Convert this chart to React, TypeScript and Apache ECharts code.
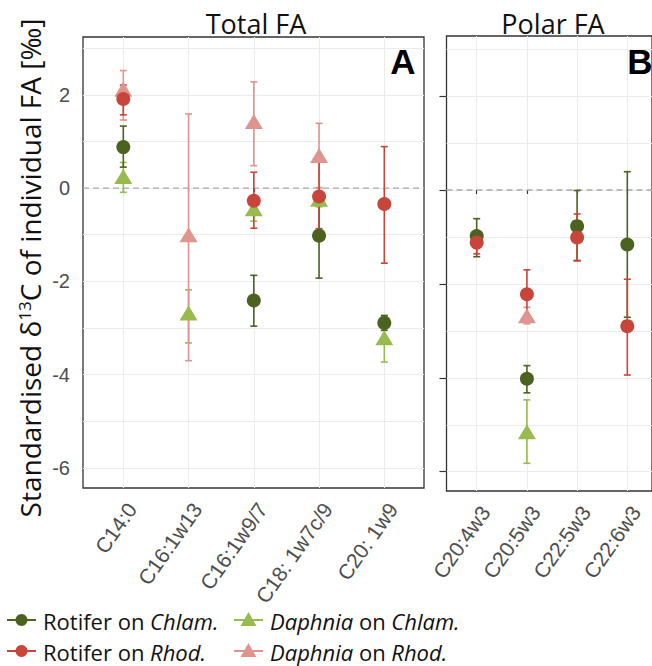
import React, { useEffect, useRef } from 'react';
import * as echarts from 'echarts';

// ---------- DATA ----------
const totalCats = ['C14:0', 'C16:1w13', 'C16:1w9/7', 'C18: 1w7c/9', 'C20: 1w9'];
const polarCats = ['C20:4w3', 'C20:5w3', 'C22:5w3', 'C22:6w3'];

const yLabelTicks = [-6, -4, -2, 0, 2];
const yGridTicks = [-6, -5, -4, -3, -2, -1, 0, 1, 2, 3];

// Total FA (mean, lower, upper)
const rotChlamTotal = [0.88, null, -2.41, -1.02, -2.89];
const rotChlamTotalLo = [0.45, null, -2.96, -1.93, -3.05];
const rotChlamTotalHi = [1.33, null, -1.87, -0.11, -2.73];

const rotRhodTotal = [1.91, null, -0.27, -0.18, -0.34];
const rotRhodTotalLo = [1.57, null, -0.86, -0.87, -1.61];
const rotRhodTotalHi = [2.21, null, 0.34, 0.57, 0.89];

const dapChlamTotal = [0.25, -2.68, -0.44, -0.24, -3.21];
const dapChlamTotalLo = [-0.09, -3.32, -0.71, -0.4, -3.73];
const dapChlamTotalHi = [0.55, -2.18, -0.2, -0.1, -2.75];

const dapRhodTotal = [2.12, -1.0, 1.43, 0.7, null];
const dapRhodTotalLo = [1.46, -3.7, 0.48, 0.01, null];
const dapRhodTotalHi = [2.52, 1.59, 2.28, 1.39, null];

// Polar FA
const rotChlamPolar = [-0.98, -4.02, -0.77, -1.16];
const rotChlamPolarLo = [-1.42, -4.32, -1.5, -2.71];
const rotChlamPolarHi = [-0.61, -3.74, -0.01, 0.39];

const rotRhodPolar = [-1.12, -2.22, -1.01, -2.9];
const rotRhodPolarLo = [-1.36, -2.7, -1.51, -3.94];
const rotRhodPolarHi = [-0.9, -1.7, -0.51, -1.9];

const dapChlamPolar = [null, -5.15, null, null];
const dapChlamPolarLo = [null, -5.82, null, null];
const dapChlamPolarHi = [null, -4.47, null, null];

const dapRhodPolar = [null, -2.68, null, null];
const dapRhodPolarLo = [null, -2.85, null, null];
const dapRhodPolarHi = [null, -2.5, null, null];

// ---------- STYLE ----------
const C_ROT_CHLAM = '#4b6220';
const C_ROT_RHOD = '#c8453c';
const C_DAP_CHLAM = '#97bb4f';
const C_DAP_RHOD = '#e0948e';
const GRID_COLOR = '#ebebeb';
const BORDER = '#333333';
const TICK_TEXT = '#4d4d4d';
const TICK_FONT = 'Liberation Sans, Arial, sans-serif';
const TEXT_FONT = 'Open Sans, sans-serif';

type Group = {
  name: string;
  color: string;
  symbol: string;
  size: number | number[];
  total: (number | null)[];
  totalLo: (number | null)[];
  totalHi: (number | null)[];
  polar: (number | null)[];
  polarLo: (number | null)[];
  polarHi: (number | null)[];
};

// draw order: triangles first, circles on top
const groups: Group[] = [
  { name: 'Daphnia on Chlam.', color: C_DAP_CHLAM, symbol: 'triangle', size: [18, 15],
    total: dapChlamTotal, totalLo: dapChlamTotalLo, totalHi: dapChlamTotalHi,
    polar: dapChlamPolar, polarLo: dapChlamPolarLo, polarHi: dapChlamPolarHi },
  { name: 'Daphnia on Rhod.', color: C_DAP_RHOD, symbol: 'triangle', size: [18, 15],
    total: dapRhodTotal, totalLo: dapRhodTotalLo, totalHi: dapRhodTotalHi,
    polar: dapRhodPolar, polarLo: dapRhodPolarLo, polarHi: dapRhodPolarHi },
  { name: 'Rotifer on Chlam.', color: C_ROT_CHLAM, symbol: 'circle', size: 14,
    total: rotChlamTotal, totalLo: rotChlamTotalLo, totalHi: rotChlamTotalHi,
    polar: rotChlamPolar, polarLo: rotChlamPolarLo, polarHi: rotChlamPolarHi },
  { name: 'Rotifer on Rhod.', color: C_ROT_RHOD, symbol: 'circle', size: 14,
    total: rotRhodTotal, totalLo: rotRhodTotalLo, totalHi: rotRhodTotalHi,
    polar: rotRhodPolar, polarLo: rotRhodPolarLo, polarHi: rotRhodPolarHi },
];

const Y_L = { min: -6.43, max: 3.24 };
const Y_R = { min: -6.41, max: 3.28 };

function points(vals: (number | null)[]) {
  const out: number[][] = [];
  vals.forEach((v, i) => { if (v != null) out.push([i, v]); });
  return out;
}
function bars(lo: (number | null)[], hi: (number | null)[]) {
  const out: number[][] = [];
  lo.forEach((l, i) => { const h = hi[i]; if (l != null && h != null) out.push([i, l, h]); });
  return out;
}

function errorSeries(xIdx: number, yIdx: number, data: number[][], color: string) {
  return {
    type: 'custom',
    xAxisIndex: xIdx,
    yAxisIndex: yIdx,
    z: 2,
    silent: true,
    clip: false,
    encode: { x: 0, y: [1, 2] },
    data,
    renderItem: (params: any, api: any) => {
      const x = api.value(0);
      const lo = api.value(1);
      const hi = api.value(2);
      const p1 = api.coord([x, hi]);
      const p2 = api.coord([x, lo]);
      const w = 3.5;
      const st = { stroke: color, lineWidth: 1.6 };
      return {
        type: 'group',
        children: [
          { type: 'line', shape: { x1: p1[0], y1: p1[1], x2: p2[0], y2: p2[1] }, style: st },
          { type: 'line', shape: { x1: p1[0] - w, y1: p1[1], x2: p1[0] + w, y2: p1[1] }, style: st },
          { type: 'line', shape: { x1: p2[0] - w, y1: p2[1], x2: p2[0] + w, y2: p2[1] }, style: st },
        ],
      };
    },
  };
}

function zeroLine(xIdx: number, yIdx: number) {
  return {
    type: 'custom',
    xAxisIndex: xIdx,
    yAxisIndex: yIdx,
    z: 1,
    silent: true,
    data: [[0, 0]],
    renderItem: (params: any, api: any) => {
      const a = api.coord([0, 0]);
      const b = api.coord([1, 0]);
      return {
        type: 'line',
        shape: { x1: a[0], y1: a[1], x2: b[0], y2: b[1] },
        style: { stroke: '#a9a9a9', lineWidth: 1.3, lineDash: [6, 4] },
      };
    },
  };
}

function catAxis(gridIndex: number, cats: string[]) {
  return {
    gridIndex,
    type: 'category',
    data: cats,
    boundaryGap: false,
    axisLine: { show: false },
    axisTick: { show: true, length: 4, interval: 0, lineStyle: { color: BORDER, width: 1.2 } },
    splitLine: { show: true, interval: 0, lineStyle: { color: GRID_COLOR, width: 1 } },
    axisLabel: {
      interval: 0, rotate: 55, fontSize: 21, color: TICK_TEXT, fontFamily: TICK_FONT,
      margin: 11, verticalAlign: 'top', align: 'right',
    },
  };
}

function hiddenValueX(gridIndex: number) {
  return { gridIndex, type: 'value', min: 0, max: 1, show: false };
}
function hiddenY(gridIndex: number, r: { min: number; max: number }) {
  return { gridIndex, type: 'value', min: r.min, max: r.max, show: false, splitLine: { show: false } };
}

function buildLegend() {
  const items = [
    { rich: '{n|Rotifer on }{i|Chlam.}', color: C_ROT_CHLAM, shape: 'circle', col: 0, row: 0 },
    { rich: '{n|Rotifer on }{i|Rhod.}', color: C_ROT_RHOD, shape: 'circle', col: 0, row: 1 },
    { rich: '{i|Daphnia}{n| on }{i|Chlam.}', color: C_DAP_CHLAM, shape: 'triangle', col: 1, row: 0 },
    { rich: '{i|Daphnia}{n| on }{i|Rhod.}', color: C_DAP_RHOD, shape: 'triangle', col: 1, row: 1 },
  ];
  const colX = [7, 234];
  const rowY = [620, 651];
  const els: any[] = [];
  items.forEach((it) => {
    const x0 = colX[it.col];
    const y = rowY[it.row];
    const cx = x0 + 14.5;
    els.push({ type: 'line', shape: { x1: x0, y1: y, x2: x0 + 29, y2: y }, style: { stroke: it.color, lineWidth: 2 }, silent: true });
    if (it.shape === 'circle') {
      els.push({ type: 'circle', shape: { cx, cy: y, r: 6 }, style: { fill: it.color }, silent: true });
    } else {
      els.push({ type: 'polygon', shape: { points: [[cx, y - 8], [cx + 8, y + 6], [cx - 8, y + 6]] }, style: { fill: it.color }, silent: true });
    }
    els.push({
      type: 'text', x: x0 + 36, y: y + 1, silent: true,
      style: {
        text: it.rich,
        rich: {
          n: { fontSize: 22, lineHeight: 20, fontFamily: TEXT_FONT, fill: '#111' },
          i: { fontSize: 22, lineHeight: 20, fontFamily: TEXT_FONT, fontStyle: 'italic', fill: '#111' },
        },
        align: 'left', verticalAlign: 'middle',
      },
    });
  });
  return els;
}

const series: any[] = [zeroLine(0, 0), zeroLine(2, 2)];
groups.forEach((g) => {
  series.push(errorSeries(1, 1, bars(g.totalLo, g.totalHi), g.color));
  series.push(errorSeries(3, 3, bars(g.polarLo, g.polarHi), g.color));
});
groups.forEach((g) => {
  series.push({
    type: 'scatter', name: g.name, xAxisIndex: 1, yAxisIndex: 1, z: 3, clip: false,
    symbol: g.symbol, symbolSize: g.size, itemStyle: { color: g.color, opacity: 1 },
    data: points(g.total),
  });
  series.push({
    type: 'scatter', name: g.name, xAxisIndex: 3, yAxisIndex: 3, z: 3, clip: false,
    symbol: g.symbol, symbolSize: g.size, itemStyle: { color: g.color, opacity: 1 },
    data: points(g.polar),
  });
});

const option: any = {
  animation: false,
  backgroundColor: '#ffffff',
  grid: [
    { left: 83, top: 37, width: 341, height: 451, show: true, borderColor: BORDER, borderWidth: 1.3, backgroundColor: 'transparent' },
    { left: 123.3, top: 37, width: 261, height: 451, show: false },
    { left: 446.5, top: 36, width: 215, height: 455, show: true, borderColor: BORDER, borderWidth: 1.3, backgroundColor: 'transparent' },
    { left: 476.7, top: 36, width: 150.6, height: 455, show: false },
  ],
  xAxis: [
    hiddenValueX(0),
    catAxis(1, totalCats),
    hiddenValueX(2),
    catAxis(3, polarCats),
  ],
  yAxis: [
    {
      gridIndex: 0, type: 'value', min: Y_L.min, max: Y_L.max, position: 'left',
      axisLine: { show: false },
      axisTick: { show: false, customValues: yGridTicks },
      splitLine: { show: true, lineStyle: { color: GRID_COLOR, width: 1 }, customValues: yGridTicks },
      axisLabel: { customValues: yLabelTicks, margin: 13, fontSize: 20, color: TICK_TEXT, fontFamily: TICK_FONT },
    },
    hiddenY(1, Y_L),
    {
      gridIndex: 2, type: 'value', min: Y_R.min, max: Y_R.max, position: 'left',
      axisLine: { show: false },
      axisTick: { show: false, customValues: yGridTicks },
      splitLine: { show: true, lineStyle: { color: GRID_COLOR, width: 1 }, customValues: yGridTicks },
      axisLabel: { show: false },
    },
    hiddenY(3, Y_R),
    {
      gridIndex: 2, type: 'value', min: Y_R.min, max: Y_R.max, position: 'left',
      axisLine: { show: false },
      axisTick: { show: true, length: 7, customValues: yLabelTicks, lineStyle: { color: BORDER, width: 1.2 } },
      splitLine: { show: false },
      axisLabel: { show: false },
    },
  ],
  graphic: [
    { type: 'text', x: 256, y: 23, silent: true, style: { text: 'Total FA', fontSize: 27, fontFamily: TEXT_FONT, fill: '#111', align: 'center', verticalAlign: 'middle' } },
    { type: 'text', x: 553, y: 23, silent: true, style: { text: 'Polar FA', fontSize: 27, fontFamily: TEXT_FONT, fill: '#111', align: 'center', verticalAlign: 'middle' } },
    { type: 'text', x: 403, y: 61, z: 10, silent: true, style: { text: 'A', fontSize: 35, fontWeight: 'bold', fontFamily: TICK_FONT, fill: '#000', align: 'center', verticalAlign: 'middle' } },
    { type: 'text', x: 640, y: 61, z: 10, silent: true, style: { text: 'B', fontSize: 35, fontWeight: 'bold', fontFamily: TICK_FONT, fill: '#000', align: 'center', verticalAlign: 'middle' } },
    {
      type: 'text', x: 30, y: 268, rotation: Math.PI / 2, silent: true,
      style: {
        text: '{a|Standardised δ}{s|13}{a|C of individual FA [‰]}',
        rich: {
          a: { fontSize: 28, fontFamily: TEXT_FONT, fill: '#111', verticalAlign: 'bottom' },
          s: { fontSize: 17, fontFamily: TEXT_FONT, fill: '#111', verticalAlign: 'top' },
        },
        align: 'center', verticalAlign: 'middle',
      },
    },
    ...buildLegend(),
  ],
  series,
};

export default function App() {
  const ref = useRef<HTMLDivElement>(null);
  useEffect(() => {
    document.body.style.margin = '0';
    const chart = echarts.init(ref.current as HTMLDivElement, null, { renderer: 'svg' });
    chart.setOption(option);
    return () => chart.dispose();
  }, []);
  return <div ref={ref} style={{ width: 652, height: 666 }} />;
}
